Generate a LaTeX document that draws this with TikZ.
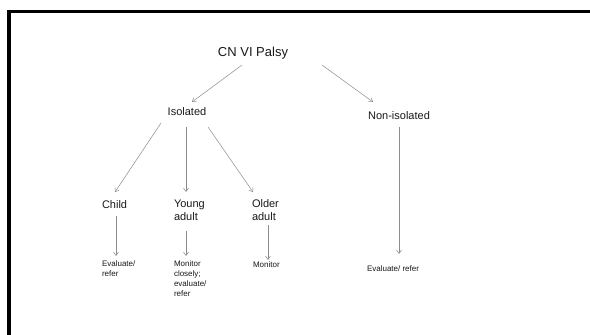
\documentclass[tikz,border=0pt]{standalone}
\usepackage{fontspec}
\setmainfont{Liberation Sans}
\usetikzlibrary{arrows.meta,calc}
\begin{document}
\begin{tikzpicture}[x=1pt,y=-1pt,
  lbl/.style={inner sep=0pt,outer sep=0pt,text=black!90,font=\fontsize{11}{13}\selectfont},
  title/.style={inner sep=0pt,outer sep=0pt,text=black!90,font=\fontsize{13}{15}\selectfont},
  small/.style={inner sep=0pt,outer sep=0pt,text=black!90,font=\fontsize{8}{10}\selectfont},
  arr/.style={draw=black!45,line width=0.5pt,-{Straight Barb[length=3.5pt,width=5pt]}},
  frame/.style={draw=black,line width=3.6pt}]
\useasboundingbox (0,0) rectangle (590,335);
\fill[white] (0,0) rectangle (590,335);
\begin{scope}
\clip (0,0) rectangle (590,335);
\draw[frame] (9.2,340) -- (9.2,11.6) -- (600,11.6);
\end{scope}
% nodes
\node[title,anchor=base] (cn) at (253,56) {CN VI Palsy};
\node[lbl,anchor=base] (iso) at (187,115) {Isolated};
\node[lbl,anchor=base] (non) at (399,119) {Non-isolated};
\node[lbl,anchor=base west] (child) at (102,208) {Child};
\node[lbl,anchor=north west,align=left] (young) at (174,200) {Young\\adult};
\node[lbl,anchor=north west,align=left] (older) at (252,200) {Older\\adult};
\node[small,anchor=north west,align=left] (ev1) at (102,261) {Evaluate/\\refer};
\node[small,anchor=north west,align=left] (mon2) at (174,261) {Monitor\\closely;\\evaluate/\\refer};
\node[small,anchor=base west] (mon3) at (253,267) {Monitor};
\node[small,anchor=base west] (ev4) at (367,271) {Evaluate/ refer};
% connectors
\draw[arr] ($(cn.base)+(-11,9)$) -- ($(iso.base)+(5,-13)$);
\draw[arr] ($(cn.base)+(69,9)$) -- ($(non.base)+(-26,-17)$);
\draw[arr] ($(iso.base)+(-26,8)$) -- ($(child.base west)+(13,-16)$);
\draw[arr] ($(iso.base)+(-1,12)$) -- ($(young.north west)+(12,-8)$);
\draw[arr] ($(iso.base)+(21,12)$) -- ($(older.north west)+(1,-8)$);
\draw[arr] ($(child.base west)+(14,8)$) -- ($(ev1.north west)+(14,-5)$);
\draw[arr] ($(young.north west)+(12,31)$) -- ($(mon2.north west)+(12,-5)$);
\draw[arr] ($(older.north west)+(16,25)$) -- ($(mon3.base west)+(15,-7)$);
\draw[arr] ($(non.base)+(0,8)$) -- ($(ev4.base west)+(32,-17)$);
\end{tikzpicture}
\end{document}
